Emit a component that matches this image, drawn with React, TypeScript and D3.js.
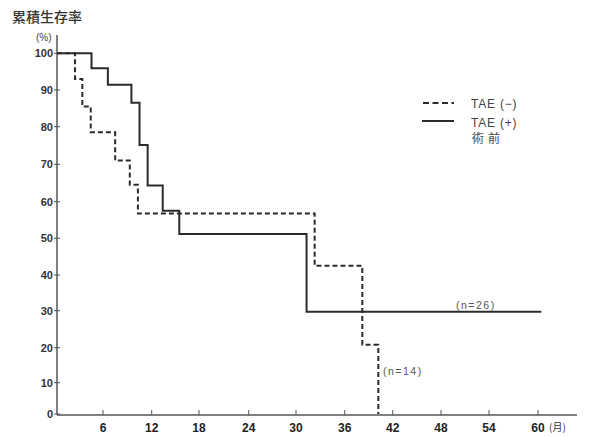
import React from "react";
import * as d3 from "d3";

// TAE (+) 術前, n=26 (solid)
const taePlusMonths = [0, 4.5, 6.6, 9.5, 10.5, 11.5, 13.4, 15.5, 31.3, 60.4];
const taePlusSurvival = [100, 95.9, 91.4, 86.5, 75.1, 64.3, 57.5, 51.2, 29.7, 29.7];

// TAE (−), n=14 (dashed)
const taeMinusMonths = [0, 2.35, 3.3, 4.4, 7.5, 9.3, 10.3, 32.3, 38.2, 40.2];
const taeMinusSurvival = [100, 93.0, 85.5, 78.5, 71.0, 64.5, 56.8, 42.5, 20.8, 0];

const xTicks = [6, 12, 18, 24, 30, 36, 42, 48, 54, 60];
const yTicks = [0, 10, 20, 30, 40, 50, 60, 70, 80, 90, 100];

const title = "累積生存率";
const yUnit = "(%)";
const xUnit = "(月)";
const legendLabels = ["TAE (−)", "TAE (+)"];
const legendSub = "術前";
const nLabels = ["(n=26)", "(n=14)"];

export default function App() {
  const W = 589;
  const H = 437;
  // piecewise scales follow the slightly uneven tick spacing of the printed chart
  const x = d3
    .scaleLinear()
    .domain([0, 6, 12, 18, 24, 30, 36, 42, 48, 54, 60])
    .range([57, 103, 151.7, 199, 248.7, 296, 344.7, 392.7, 441, 489, 538])
    .clamp(false);
  const y = d3
    .scaleLinear()
    .domain([0, 10, 20, 30, 40, 50, 60, 70, 80, 90, 100])
    .range([414, 382.7, 347.7, 310.7, 275, 238.3, 201.7, 164.3, 126.7, 90, 53.3]);
  const line = d3
    .line<[number, number]>()
    .x((d) => x(d[0]))
    .y((d) => y(d[1]))
    .curve(d3.curveStepAfter);
  const plus: [number, number][] = taePlusMonths.map((m, i) => [m, taePlusSurvival[i]]);
  const minus: [number, number][] = taeMinusMonths.map((m, i) => [m, taeMinusSurvival[i]]);
  const ink = "#2b2b2b";
  const num = "'Liberation Sans', Arial, sans-serif";
  const jp = "'Noto Sans CJK JP', sans-serif";
  const x0 = x(0);
  const yAxisY = y(0) + 1;
  return (
    <svg width={W} height={H} style={{ position: "absolute", left: 0, top: 0, background: "#fff" }}>
      <text x={12} y={22} fontFamily={jp} fontSize={14} fontWeight={500} fill="#333">
        {title}
      </text>
      <text x={36} y={41} fontFamily={num} fontSize={10} fill="#444">
        {yUnit}
      </text>
      {/* axes */}
      <line x1={x0} x2={x0} y1={35} y2={yAxisY} stroke="#555" strokeWidth={1.5} />
      <line x1={x0} x2={577} y1={yAxisY} y2={yAxisY} stroke="#555" strokeWidth={1.5} />
      {yTicks.map((t) => (
        <g key={t}>
          <line x1={x0 - 3} x2={x0 + 3} y1={y(t)} y2={y(t)} stroke="#555" strokeWidth={1} />
          <text
            x={53}
            y={y(t)}
            dy="0.36em"
            textAnchor="end"
            fontFamily={num}
            fontSize={11}
            fontWeight="bold"
            fill="#333"
          >
            {t}
          </text>
        </g>
      ))}
      {xTicks.map((t) => (
        <g key={t}>
          <line x1={x(t)} x2={x(t)} y1={yAxisY} y2={yAxisY - 5} stroke="#555" strokeWidth={1} />
          <text
            x={x(t)}
            y={yAxisY + 17}
            textAnchor="middle"
            fontFamily={num}
            fontSize={12}
            fontWeight="bold"
            fill="#222"
          >
            {t}
          </text>
        </g>
      ))}
      <text x={549} y={yAxisY + 16} fontFamily={jp} fontSize={10} fill="#333">
        {xUnit}
      </text>
      {/* curves */}
      <path d={line(plus) || ""} fill="none" stroke={ink} strokeWidth={2} />
      <path d={line(minus) || ""} fill="none" stroke={ink} strokeWidth={2} strokeDasharray="5,3" />
      {/* n labels */}
      <text x={456} y={309} fontFamily={num} fontSize={10.5} letterSpacing={1.5} fill="#555">
        {nLabels[0]}
      </text>
      <text x={383} y={374.5} fontFamily={num} fontSize={10.5} letterSpacing={1.5} fill="#555">
        {nLabels[1]}
      </text>
      {/* legend */}
      <line x1={423} x2={454} y1={103} y2={103} stroke={ink} strokeWidth={2} strokeDasharray="6,3.5" />
      <line x1={422} x2={454} y1={121} y2={121} stroke={ink} strokeWidth={2} />
      <text x={471} y={107.5} fontFamily={num} fontSize={12} letterSpacing={0.8} fill="#444">
        {legendLabels[0]}
      </text>
      <text x={471} y={126.5} fontFamily={num} fontSize={12} letterSpacing={0.8} fill="#444">
        {legendLabels[1]}
      </text>
      <text x={472} y={143} fontFamily={jp} fontSize={12} letterSpacing={4} fill="#444">
        {legendSub}
      </text>
    </svg>
  );
}
